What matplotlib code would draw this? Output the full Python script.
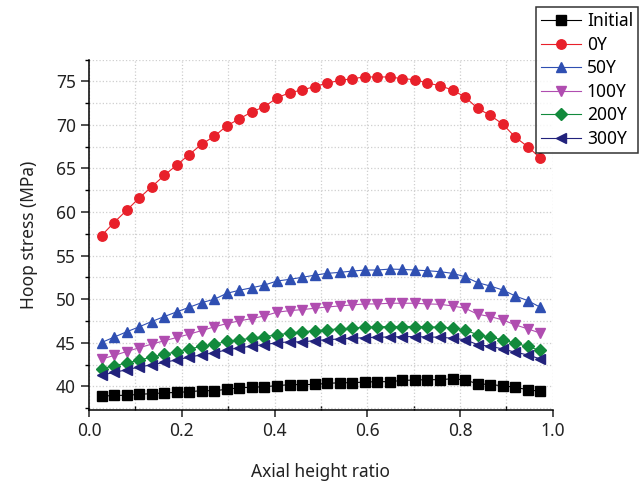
import numpy as np
import matplotlib
matplotlib.use('Agg')
import matplotlib.pyplot as plt
from matplotlib.ticker import MultipleLocator

plt.rcParams['font.family'] = ['Noto Sans', 'DejaVu Sans']

# axial height ratio: 36 points, k/37
x = np.arange(1, 37) / 37.0

initial = [38.86, 38.97, 38.97, 39.09, 39.17, 39.25, 39.31, 39.39, 39.51, 39.51,
           39.66, 39.85, 39.89, 39.97, 40.08, 40.20, 40.21, 40.22, 40.34, 40.42,
           40.42, 40.50, 40.54, 40.54, 40.69, 40.73, 40.77, 40.77, 40.88, 40.73,
           40.31, 40.20, 40.08, 39.89, 39.62, 39.43]
y0 = [57.3, 58.8, 60.2, 61.6, 62.9, 64.2, 65.4, 66.6, 67.8, 68.7,
      69.9, 70.7, 71.5, 72.1, 73.1, 73.7, 74.0, 74.4, 74.8, 75.1,
      75.3, 75.5, 75.5, 75.5, 75.3, 75.2, 74.8, 74.5, 74.0, 73.2,
      71.9, 71.1, 70.1, 68.6, 67.5, 66.2]
y50 = [45.03, 45.65, 46.26, 46.83, 47.44, 48.01, 48.55, 49.08, 49.61, 50.00,
       50.68, 51.03, 51.32, 51.63, 52.09, 52.28, 52.51, 52.76, 52.97, 53.08,
       53.23, 53.35, 53.35, 53.46, 53.42, 53.35, 53.27, 53.16, 52.97, 52.58,
       51.90, 51.52, 51.06, 50.38, 49.84, 49.08]
y100 = [43.13, 43.55, 44.00, 44.43, 44.85, 45.23, 45.61, 45.99, 46.41, 46.83,
        47.21, 47.52, 47.78, 48.09, 48.51, 48.69, 48.81, 48.96, 49.11, 49.23,
        49.35, 49.46, 49.46, 49.54, 49.54, 49.54, 49.46, 49.42, 49.23, 48.97,
        48.28, 48.01, 47.63, 47.06, 46.60, 46.11]
y200 = [42.02, 42.37, 42.68, 43.02, 43.36, 43.66, 44.00, 44.31, 44.58, 44.85,
        45.15, 45.34, 45.54, 45.72, 45.91, 46.11, 46.27, 46.39, 46.50, 46.60,
        46.68, 46.79, 46.83, 46.87, 46.87, 46.87, 46.83, 46.79, 46.71, 46.49,
        45.91, 45.65, 45.34, 44.96, 44.58, 44.12]
y300 = [41.30, 41.60, 41.91, 42.22, 42.48, 42.75, 43.05, 43.36, 43.63, 43.86,
        44.20, 44.43, 44.62, 44.80, 45.00, 45.11, 45.10, 45.25, 45.36, 45.44,
        45.52, 45.59, 45.64, 45.67, 45.71, 45.71, 45.67, 45.64, 45.52, 45.36,
        44.79, 44.60, 44.30, 43.92, 43.61, 43.15]

series = [
    ('Initial', initial, '#000000', 's'),
    ('0Y', y0, '#e8202a', 'o'),
    ('50Y', y50, '#2f4fb2', '^'),
    ('100Y', y100, '#b04db0', 'v'),
    ('200Y', y200, '#128a3c', 'D'),
    ('300Y', y300, '#22227c', '<'),
]

fig = plt.figure(figsize=(6.42, 4.88), dpi=100)
ax = fig.add_axes([0.1386, 0.160, 0.7225, 0.718])

for name, vals, col, mk in series:
    ms = 5.8 if mk == 'D' else 6.8
    ax.plot(x, vals, color=col, lw=0.8, marker=mk, ms=ms, mec=col, mfc=col, label=name)

ax.set_xlim(0, 1.0)
ax.set_ylim(37.3, 77.5)
ax.xaxis.set_major_locator(MultipleLocator(0.2))
ax.xaxis.set_minor_locator(MultipleLocator(0.1))
ax.yaxis.set_major_locator(MultipleLocator(5))
ax.yaxis.set_minor_locator(MultipleLocator(2.5))

ax.grid(True, which='both', color='#cfcfcf', ls=':', lw=0.9)
ax.set_axisbelow(True)

for s in ['top', 'right']:
    ax.spines[s].set_visible(False)
ax.spines['left'].set_linewidth(1.1)
ax.spines['bottom'].set_linewidth(1.1)

ax.tick_params(axis='x', which='major', direction='out', length=5, width=1.1, labelsize=12.5, colors='#222222')
ax.tick_params(axis='x', which='minor', direction='in', length=3, width=1.0)
ax.tick_params(axis='y', which='major', direction='out', length=6, width=1.1, labelsize=12.5, colors='#222222')
ax.tick_params(axis='y', which='minor', direction='out', length=3, width=1.0)
ax.xaxis.set_major_formatter(matplotlib.ticker.FormatStrFormatter('%.1f'))

ax.set_xlabel('Axial height ratio', fontsize=12.5, labelpad=17, color='#222222')
ax.set_ylabel('Hoop stress (MPa)', fontsize=12.5, labelpad=13, color='#222222')

leg = fig.legend(loc='upper right', bbox_to_anchor=(0.994, 0.986), fontsize=12.5,
                 frameon=True, fancybox=False, edgecolor='black', handlelength=2.3,
                 labelspacing=0.32, borderpad=0.3, handletextpad=0.35, borderaxespad=0)
leg.get_frame().set_linewidth(1.1)

fig.savefig('out.png', dpi=100)
